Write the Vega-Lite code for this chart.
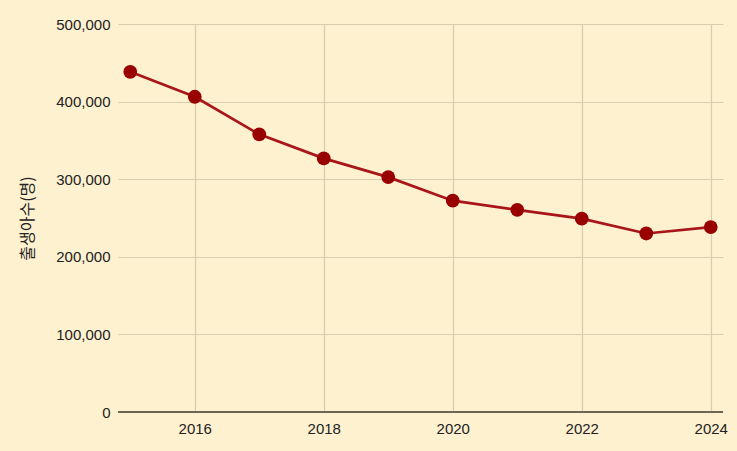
{
  "$schema": "https://vega.github.io/schema/vega-lite/v6.json",
  "autosize": {"type": "none"},
  "width": 605,
  "height": 388,
  "padding": {"left": 118, "top": 24, "right": 14, "bottom": 39},
  "background": "#fef1d0",
  "config": {
    "view": {"stroke": null},
    "font": "Liberation Sans",
    "axis": {"labelFont": "Liberation Sans", "labelFontSize": 15, "labelColor": "#222222", "gridColor": "#d9cdb0", "gridWidth": 1.2, "ticks": false, "domain": false}
  },
  "data": {"values": [
    {"year": 2015, "births": 438420},
    {"year": 2016, "births": 406243},
    {"year": 2017, "births": 357771},
    {"year": 2018, "births": 326822},
    {"year": 2019, "births": 302676},
    {"year": 2020, "births": 272337},
    {"year": 2021, "births": 260562},
    {"year": 2022, "births": 249186},
    {"year": 2023, "births": 230028},
    {"year": 2024, "births": 238300}
  ]},
  "layer": [
    {
      "mark": {"type": "line", "color": "#a8161a", "strokeWidth": 2.7},
      "encoding": {
        "x": {"field": "year", "type": "quantitative", "scale": {"domain": [2014.81, 2024.19], "nice": false, "zero": false},
          "axis": {"values": [2016, 2018, 2020, 2022, 2024], "format": "d", "title": null, "labelPadding": 9, "grid": true}},
        "y": {"field": "births", "type": "quantitative", "scale": {"domain": [0, 500000], "nice": false},
          "axis": {"values": [0, 100000, 200000, 300000, 400000, 500000], "format": ",d", "title": "출생아수(명)", "titleFont": "Noto Sans CJK KR", "titleFontSize": 16, "titleFontWeight": "normal", "titleColor": "#222222", "titlePadding": 20, "labelPadding": 8, "grid": true}}
      }
    },
    {
      "mark": {"type": "point", "filled": true, "color": "#990000", "size": 190, "opacity": 1},
      "encoding": {
        "x": {"field": "year", "type": "quantitative"},
        "y": {"field": "births", "type": "quantitative"}
      }
    },
    {
      "data": {"values": [{"v": 0}]},
      "mark": {"type": "rule", "color": "#6e6654", "strokeWidth": 2},
      "encoding": {"y": {"field": "v", "type": "quantitative"}}
    }
  ]
}
